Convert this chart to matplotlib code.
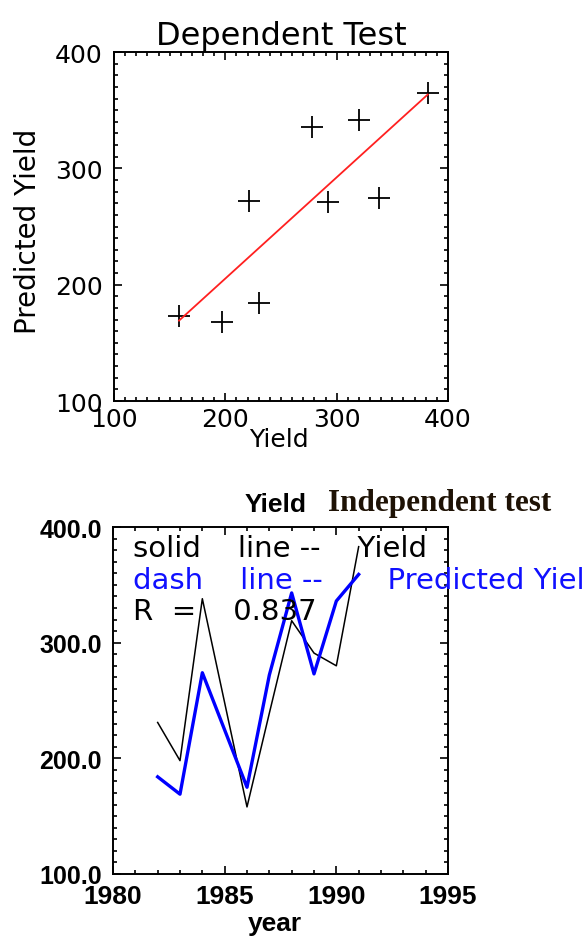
import numpy as np
import matplotlib
matplotlib.use("Agg")
import matplotlib.pyplot as plt
from matplotlib.ticker import MultipleLocator, FormatStrFormatter

# ---- Data: dependent test (scatter) ----
dep_yield = [230.3, 196.7, 338.1, 158.4, 221.6, 320.4, 292.6, 278.2, 381.8]
dep_pred = [184.3, 168.2, 274.3, 173.3, 272.2, 341.6, 270.8, 335.9, 364.6]

# ---- Data: independent test (time series) ----
years = [1982, 1983, 1984, 1986, 1987, 1988, 1989, 1990, 1991]
ind_yield = [231, 198, 338, 158, 239, 319, 291, 280, 383]
ind_pred = [184, 169, 274, 175, 272, 343, 273, 336, 359]

top_title = "Dependent Test"
top_xlabel = "Yield"
top_ylabel = "Predicted Yield"
bot_title = "Yield"
bot_title2 = "Independent test"
bot_xlabel = "year"
legend_lines = ["solid    line --    Yield",
                "dash    line --       Predicted Yield",
                "R  =    0.837"]

plt.rcParams['font.family'] = ['DejaVu Sans']
W, H = 585, 937
fig = plt.figure(figsize=(W / 100, H / 100), dpi=100)

BOLD = ['Liberation Sans', 'DejaVu Sans']


def fr(l, t, r, b):
    return [l / W, 1 - b / H, (r - l) / W, (b - t) / H]


# ---------------- Top panel ----------------
ax1 = fig.add_axes(fr(114, 53, 448, 402))
ax1.plot(dep_yield, dep_pred, linestyle='none', marker='+', markersize=16,
         markeredgewidth=1.3, color='black')
coef = np.polyfit(dep_yield, dep_pred, 1)
xf = np.array([min(dep_yield), max(dep_yield)])
ax1.plot(xf, np.polyval(coef, xf), color='#ff2020', linewidth=1.3)
ax1.set_xlim(100, 400)
ax1.set_ylim(100, 400)
ax1.xaxis.set_major_locator(MultipleLocator(100))
ax1.yaxis.set_major_locator(MultipleLocator(100))
ax1.xaxis.set_minor_locator(MultipleLocator(10))
ax1.yaxis.set_minor_locator(MultipleLocator(10))
ax1.tick_params(which='both', direction='in', top=True, right=True, width=1.2)
ax1.tick_params(which='major', length=6)
ax1.tick_params(which='minor', length=3)
ax1.tick_params(axis='x', labelsize=18, pad=4)
ax1.tick_params(axis='y', labelsize=18, pad=8)
for s in ax1.spines.values():
    s.set_linewidth(1.4)
ax1.set_title(top_title, fontsize=23, pad=6)
ax1.set_xlabel(top_xlabel, fontsize=18)
ax1.xaxis.label.set_va('baseline')
ax1.xaxis.set_label_coords(0.494, -0.129)
ax1.set_ylabel(top_ylabel, fontsize=20)
ax1.yaxis.label.set_va('baseline')
ax1.yaxis.set_label_coords(-0.235, 0.49)

# ---------------- Bottom panel ----------------
ax2 = fig.add_axes(fr(113, 528, 448, 875))
ax2.plot(years, ind_yield, color='black', linewidth=1.1)
ax2.plot(years, ind_pred, color='#0000ff', linewidth=2.4)
ax2.set_xlim(1980, 1995)
ax2.set_ylim(100, 400)
ax2.xaxis.set_major_locator(MultipleLocator(5))
ax2.xaxis.set_minor_locator(MultipleLocator(1))
ax2.yaxis.set_major_locator(MultipleLocator(100))
ax2.yaxis.set_minor_locator(MultipleLocator(10))
ax2.yaxis.set_major_formatter(FormatStrFormatter('%.1f'))
ax2.tick_params(which='both', direction='in', top=True, right=True, width=1.2)
ax2.tick_params(which='major', length=6)
ax2.tick_params(which='minor', length=3)
ax2.tick_params(axis='x', labelsize=19, pad=7)
ax2.tick_params(axis='y', labelsize=18, pad=8)
for lab in ax2.get_xticklabels() + ax2.get_yticklabels():
    lab.set_fontweight('bold')
    lab.set_family(BOLD)
for s in ax2.spines.values():
    s.set_linewidth(1.4)

ax2.set_xlabel(bot_xlabel, fontsize=19, fontweight='bold', family=BOLD)
ax2.xaxis.label.set_va('baseline')
ax2.xaxis.set_label_coords(0.482, (875 - 931) / 347)

fig.text(276 / W, 1 - 512 / H, bot_title, fontsize=19, fontweight='bold',
         family=BOLD, ha='center', va='baseline')
fig.text(328 / W, 1 - 511 / H, bot_title2, fontsize=22.5, fontweight='bold',
         family=['Liberation Serif', 'DejaVu Serif'], color='#1e1205',
         ha='left', va='baseline')

ys = [557, 589, 620]
cols = ['black', '#1010ff', 'black']
for txt, yy, c in zip(legend_lines, ys, cols):
    fig.text(133 / W, 1 - yy / H, txt, fontsize=21, color=c,
             ha='left', va='baseline')

fig.savefig('out.png', dpi=100)
